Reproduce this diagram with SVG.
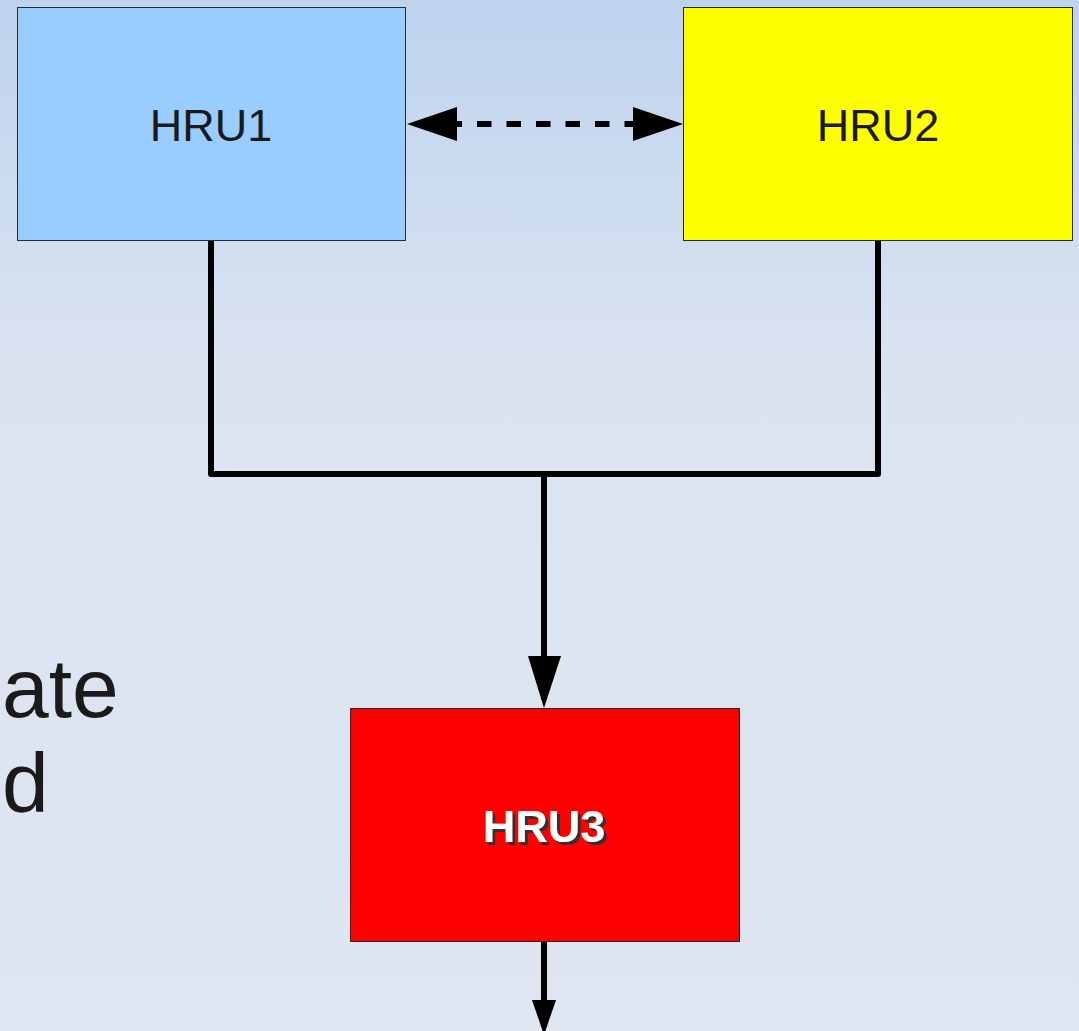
<svg xmlns="http://www.w3.org/2000/svg" width="1079" height="1031" viewBox="0 0 1079 1031">
<defs>
<linearGradient id="bg" x1="0" y1="0" x2="0" y2="1">
<stop offset="0" stop-color="#bdd3ee"/>
<stop offset="0.35" stop-color="#dbe3f1"/>
<stop offset="1" stop-color="#dfe6f2"/>
</linearGradient>
<filter id="shadow" x="-10%" y="-10%" width="130%" height="140%">
<feDropShadow dx="3" dy="3" stdDeviation="0.5" flood-color="#333" flood-opacity="1"/>
</filter>
</defs>
<style>
.box{stroke:#2a2a2a;stroke-width:1}
.lbl{font-family:"Liberation Sans",Arial,sans-serif;font-size:45px;fill:#1a1a1a;text-anchor:middle}
.con{fill:none;stroke:#000;stroke-width:6;stroke-linejoin:round}
.head{fill:#000}
.big{font-family:"Liberation Sans",Arial,sans-serif;font-size:84px;fill:#1a1a1a}
</style>
<rect width="1079" height="1031" fill="url(#bg)"/>
<text class="big" x="2" y="717">ate</text>
<text class="big" x="2" y="812">d</text>
<g id="connectors">
<path class="con" d="M211,240 V474 H878 V240"/>
<path class="con" d="M544,474 V700"/>
<path class="head" d="M528,656 L561,656 L544,708 Z"/>
<path class="con" d="M544,941 V1010"/>
<path class="head" d="M532,1000 L556,1000 L544,1035 Z"/>
<path class="con" d="M457,124 H633" stroke-dasharray="14.5,15" stroke-dashoffset="9.5"/>
<path class="head" d="M407,124 L457,107 L457,141 Z"/>
<path class="head" d="M683,124 L633,107 L633,141 Z"/>
</g>
<g id="hru1">
<rect class="box" x="17.5" y="7.5" width="388" height="233" fill="#99ccff"/>
<text class="lbl" x="211" y="141">HRU1</text>
</g>
<g id="hru2">
<rect class="box" x="683.5" y="7.5" width="389" height="233" fill="#ffff00"/>
<text class="lbl" x="878" y="141">HRU2</text>
</g>
<g id="hru3">
<rect class="box" x="350.5" y="708.5" width="389" height="233" fill="#ff0000"/>
<text class="lbl" x="544" y="842" style="font-weight:bold;fill:#fff" filter="url(#shadow)">HRU3</text>
</g>
</svg>
